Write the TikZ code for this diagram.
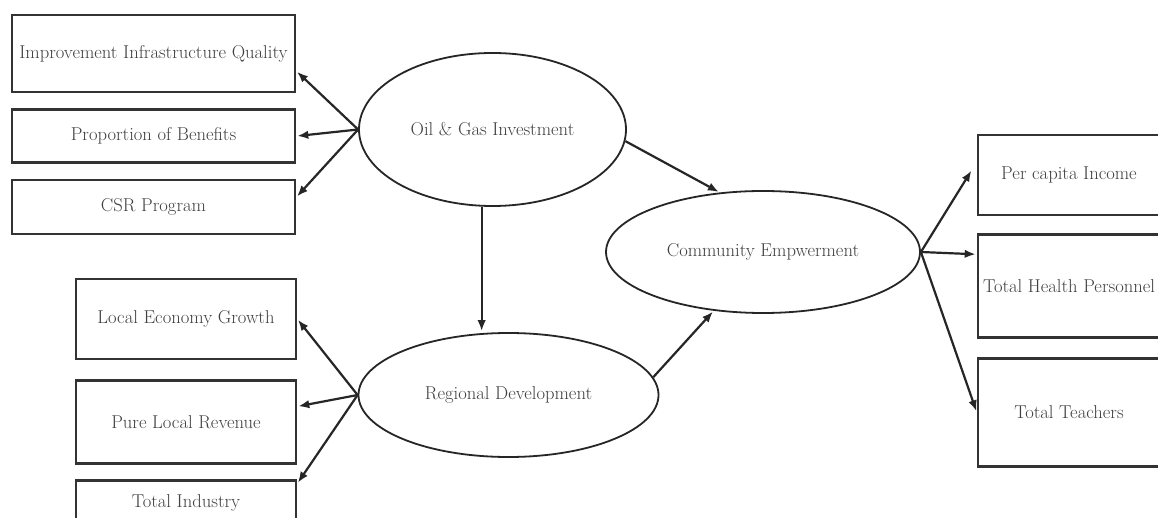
\documentclass[tikz,border=0pt]{standalone}
\usepackage{tikz}
\usetikzlibrary{positioning,shapes.geometric,arrows.meta}

\begin{document}
\begin{tikzpicture}[x=1pt,y=-1pt,->,>={Latex[length=11pt,width=8.5pt]},shorten >=1pt,
  item node/.style={rectangle,draw=black!80,line width=2.6pt,fill=white,
  font=\fontsize{18.6}{22}\selectfont,text=black!75,inner sep=1pt,
  minimum width=220pt},
  latent node/.style={ellipse,draw=black!85,line width=1.8pt,fill=white,
  font=\fontsize{18.6}{22}\selectfont,text=black!75,inner sep=0pt}]

  \path[use as bounding box,fill=white,-] (0,0) rectangle (1158,518);

  % indicators of the investment
  \node[item node,minimum width=283pt,minimum height=77pt] (imp) at (153.5,53.5)
    {Improvement Infrastructure Quality};
  \node[item node,minimum width=283pt,minimum height=53pt] (ben) [below=15pt of imp]
    {Proportion of Benefits};
  \node[item node,minimum width=283pt,minimum height=54pt] (csr) [below=15pt of ben]
    {CSR Program};

  % indicators of the development
  \node[item node,minimum height=80pt] (leg) at (186,319) {Local Economy Growth};
  \node[item node,minimum height=83pt] (plr) [below=19pt of leg] {Pure Local Revenue};
  \node[item node,minimum height=46pt] (ind) [below=14pt of plr] {Total Industry};

  % indicators of the empowerment
  \node[item node,minimum width=182pt,minimum height=80pt] (pci) at (1069,175)
    {Per capita Income};
  \node[item node,minimum width=182pt,minimum height=103pt] (thp) [below=17pt of pci]
    {Total Health Personnel};
  \node[item node,minimum width=182pt,minimum height=108pt] (tt) [below=18pt of thp]
    {Total Teachers};

  % latent variables
  \node[latent node,minimum width=267pt,minimum height=153pt] (oil) at (492.5,129.5)
    {Oil \& Gas Investment};
  \node[latent node,minimum width=300pt,minimum height=124pt] (reg) at (508.5,395)
    {Regional Development};
  \node[latent node,minimum width=314pt,minimum height=122pt] (com) at (763,252)
    {Community Empwerment};

  \path[every edge/.style={draw,line width=2.2pt,black!85}]
    (oil.west) edge (imp.-7)
    (oil.west) edge (ben.east)
    (oil.west) edge (csr.4)
    (reg.west) edge (leg.east)
    (reg.west) edge (plr.8)
    (reg.west) edge (ind.10)
    (com.east) edge [shorten >=10pt] (pci.172)
    (com.east) edge (thp.161)
    (com.east) edge (tt.west)
    (oil.262) edge (oil.262 |- reg.north)
    (oil.-5) edge (com.126)
    (reg.7) edge (com.230);
\end{tikzpicture}
\end{document}
